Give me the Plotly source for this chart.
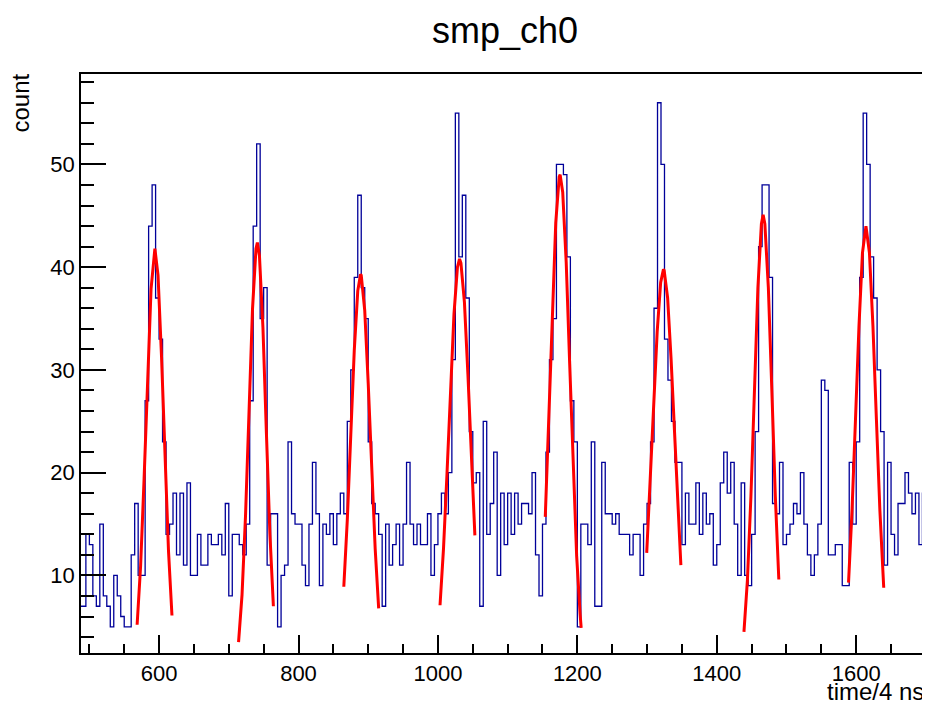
import plotly.graph_objects as go

# ---- histogram data (bins of width 5, first bin starts at 485) ----
bin_start = 485
bin_width = 5
counts = [
    7, 7, 14, 13, 8, 7, 15, 8, 7, 5,          # 485-530
    10, 8, 6, 5, 5, 12, 17, 10, 10, 27,       # 535-580
    44, 48, 37, 33, 23, 14, 15, 18, 12, 18,   # 585-630
    11, 19, 10, 10, 14, 11, 11, 14, 13, 13,   # 635-680
    14, 12, 17, 8, 14, 14, 13, 12, 15, 27,    # 685-730
    44, 52, 35, 38, 11, 16, 16, 5, 10, 11,    # 735-780
    23, 16, 15, 15, 11, 9, 15, 21, 16, 9,     # 785-830
    15, 14, 16, 13, 16, 18, 16, 25, 30, 39,   # 835-880
    47, 38, 35, 23, 17, 16, 14, 7, 15, 11,    # 885-930
    13, 15, 11, 15, 21, 15, 13, 15, 13, 13,   # 935-980
    16, 10, 13, 16, 18, 16, 20, 31, 55, 41,   # 985-1030
    47, 37, 24, 19, 20, 7, 25, 14, 17, 22,    # 1035-1080
    10, 18, 13, 18, 14, 18, 15, 17, 17, 16,   # 1085-1130
    20, 12, 8, 15, 22, 31, 35, 50, 50, 49,    # 1135-1180
    41, 27, 23, 5, 15, 15, 13, 23, 7, 7,      # 1185-1230
    21, 16, 16, 15, 16, 14, 14, 14, 12, 14,   # 1235-1280
    14, 10, 15, 17, 23, 36, 56, 50, 33, 29,   # 1285-1330
    25, 21, 21, 13, 18, 15, 15, 19, 14, 18,   # 1335-1380
    15, 16, 11, 13, 19, 22, 18, 21, 15, 10,   # 1385-1430
    19, 10, 9, 14, 24, 42, 48, 48, 39, 17,    # 1435-1480
    16, 21, 13, 14, 15, 17, 16, 20, 15, 12,   # 1485-1530
    10, 12, 15, 29, 28, 12, 12, 13, 13, 9,    # 1535-1580
    9, 21, 15, 23, 39, 55, 50, 41, 37, 30,    # 1585-1630
    24, 11, 21, 14, 12, 17, 17, 20, 18, 16,   # 1635-1680
    18, 13, 18, 14                            # 1685-1700
]

# ---- fitted curves ----
fit1_x = [568.5, 573.5, 578.5, 583.5, 588.5, 594, 598.5, 603.5, 608.5, 613.5, 618.5]
fit1_y = [5.2, 10.9, 19.4, 29.4, 37.9, 41.8, 39.2, 31.3, 21.3, 12.4, 6.1]
fit2_x = [714, 719, 724, 729, 734, 739, 741, 744, 749, 754, 759, 764]
fit2_y = [3.5, 8.1, 15.8, 25.9, 35.9, 41.8, 42.4, 41.1, 34.1, 23.8, 14.0, 7.0]
fit3_x = [865, 870, 875, 880, 885, 889, 890, 895, 900, 905, 910, 915]
fit3_y = [8.9, 15.4, 23.7, 31.9, 37.7, 39.3, 39.2, 35.8, 28.7, 20.3, 12.6, 6.8]
fit4_x = [1003, 1008, 1013, 1018, 1023, 1028, 1031, 1033, 1038, 1043, 1048, 1053]
fit4_y = [7.1, 12.6, 19.9, 28.0, 35.4, 40.0, 40.8, 40.4, 36.6, 29.6, 21.5, 13.9]
fit5_x = [1154, 1159, 1164, 1169, 1174, 1175.3, 1179, 1184, 1189, 1194, 1199, 1204, 1205.5]
fit5_y = [15.7, 25.1, 35.5, 44.3, 48.8, 49.0, 47.3, 40.5, 30.6, 20.3, 11.9, 6.2, 4.9]
fit6_x = [1299.5, 1304.5, 1309.5, 1314.5, 1319.5, 1323.5, 1324.5, 1329.5, 1334.5, 1339.5, 1344.5, 1348.5]
fit6_y = [12.2, 19.0, 26.6, 33.7, 38.5, 39.8, 39.7, 37.0, 31.0, 23.5, 16.1, 11.0]
fit7_x = [1439, 1444, 1449, 1454, 1459, 1464, 1466.5, 1469, 1474, 1479, 1484, 1489]
fit7_y = [4.5, 9.6, 17.7, 28.0, 38.0, 44.2, 45.1, 44.2, 38.0, 28.0, 17.7, 9.6]
fit8_x = [1589, 1594, 1599, 1604, 1609, 1614, 1619, 1624, 1629, 1634, 1639.5]
fit8_y = [9.3, 16.3, 25.2, 34.3, 41.4, 44.0, 41.4, 34.3, 25.2, 16.3, 8.8]

title_text = "smp_ch0"
x_title = "time/4 ns"
y_title = "count"

# ---- build step histogram ----
edges = [bin_start + bin_width * i for i in range(len(counts) + 1)]
hx = edges
hy = counts + [counts[-1]]

fig = go.Figure()
fig.add_trace(go.Scatter(x=hx, y=hy, mode="lines", line=dict(color="#000099", width=1.3, shape="hv"),
                         hoverinfo="skip", showlegend=False))
for fx, fy in [(fit1_x, fit1_y), (fit2_x, fit2_y), (fit3_x, fit3_y), (fit4_x, fit4_y),
               (fit5_x, fit5_y), (fit6_x, fit6_y), (fit7_x, fit7_y), (fit8_x, fit8_y)]:
    fig.add_trace(go.Scatter(x=fx, y=fy, mode="lines", line=dict(color="#ff0000", width=3),
                             hoverinfo="skip", showlegend=False))

FONT = "Liberation Sans, Arial, Helvetica, sans-serif"
PW, PH = 847.0, 579.0
# the page body adds an 8px offset: figure is placed at (8, 8)
OFF = 8

fig.update_layout(
    width=930 - OFF, height=706 - OFF,
    margin=dict(l=81 - OFF, r=2, t=74 - OFF, b=53, autoexpand=False),
    paper_bgcolor="white", plot_bgcolor="white",
    font=dict(family=FONT, size=22, color="black"),
    xaxis=dict(range=[488, 1703], tick0=0, dtick=200, ticks="inside", ticklen=18, tickwidth=1.5,
               tickcolor="black", showline=True, linecolor="black", linewidth=1.5, mirror=True,
               showgrid=False, zeroline=False, automargin=False, tickfont=dict(size=22, family=FONT),
               minor=dict(dtick=50, tick0=0, ticks="inside", ticklen=9, tickcolor="black", tickwidth=1.5)),
    yaxis=dict(range=[2.45, 58.8], tick0=0, dtick=10, ticks="inside", ticklen=25, tickwidth=1.5,
               tickcolor="black", showline=True, linecolor="black", linewidth=1.5, mirror=True,
               showgrid=False, zeroline=False, automargin=False, tickfont=dict(size=22, family=FONT),
               minor=dict(dtick=2, tick0=0, ticks="inside", ticklen=13, tickcolor="black", tickwidth=1.5)),
    annotations=[
        dict(text=title_text, xref="paper", yref="paper", x=0.5, y=1.0 + (74 - 31) / PH,
             xanchor="center", yanchor="middle", showarrow=False, font=dict(size=36, family=FONT)),
        dict(text=x_title, xref="paper", yref="paper", x=(926 - 81) / PW, y=-(691 - 653) / PH,
             xanchor="right", yanchor="middle", showarrow=False, font=dict(size=24, family=FONT)),
        dict(text=y_title, xref="paper", yref="paper", x=(20 - 81) / PW, y=(653 - 72) / PH,
             xanchor="center", yanchor="top", textangle=-90, showarrow=False, font=dict(size=24, family=FONT)),
    ],
)

fig.write_html("out.html")
